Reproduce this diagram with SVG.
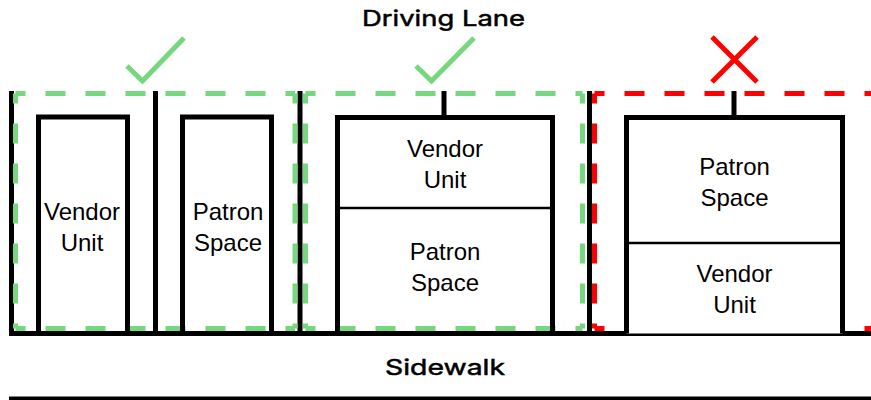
<svg xmlns="http://www.w3.org/2000/svg" width="871" height="400" viewBox="0 0 871 400">
<style>
.bg{fill:#ffffff}
.wall{fill:none;stroke:#000;stroke-width:5;stroke-linejoin:miter}
.unit{fill:#ffffff;stroke:#000;stroke-width:5;stroke-linejoin:miter}
.div{fill:none;stroke:#000;stroke-width:2.5}
.okz{fill:none;stroke:#77d77e;stroke-width:5;stroke-dasharray:20 20;stroke-dashoffset:10}
.badz{fill:none;stroke:#ff0000;stroke-width:5;stroke-dasharray:20 20;stroke-dashoffset:10}
.ok{fill:none;stroke:#77d77e;stroke-width:5}
.bad{fill:none;stroke:#ff0000;stroke-width:5}
.lbl{font-family:"Liberation Sans",Arial,sans-serif;font-size:24px;fill:#000;text-anchor:middle}
.hdr{font-family:Inter,"Liberation Sans",sans-serif;font-size:22px;font-weight:400;fill:#000;stroke:#000;stroke-width:0.5;text-anchor:middle}
</style>
<rect class="bg" x="0" y="0" width="871" height="400"/>

<g id="road">
<text class="hdr" x="443.5" y="26" textLength="163" lengthAdjust="spacingAndGlyphs">Driving Lane</text>
<text class="hdr" x="445" y="375" textLength="120" lengthAdjust="spacingAndGlyphs">Sidewalk</text>
<line class="wall" x1="9" y1="333.5" x2="871" y2="333.5"/>
<line class="wall" x1="9" y1="399" x2="871" y2="399"/>
<line class="wall" x1="11.5" y1="91" x2="11.5" y2="333.5"/>
<line class="wall" x1="300" y1="91" x2="300" y2="333.5"/>
<line class="wall" x1="589.5" y1="91" x2="589.5" y2="333.5"/>
</g>

<g id="zone1">
<g class="okz">
<line x1="15.5" y1="93.5" x2="295" y2="93.5"/>
<line x1="15.5" y1="328.5" x2="295" y2="328.5"/>
<line x1="15.5" y1="93.5" x2="15.5" y2="328.5"/>
<line x1="295" y1="93.5" x2="295" y2="328.5"/>
</g>
<polyline class="wall" points="38.5,333.5 38.5,117 127.5,117 127.5,333.5"/>
<polyline class="wall" points="182.5,333.5 182.5,117 271.5,117 271.5,333.5"/>
<line class="wall" x1="155.5" y1="91" x2="155.5" y2="333.5"/>
<text class="lbl" x="82" y="220">Vendor</text>
<text class="lbl" x="82" y="251">Unit</text>
<text class="lbl" x="228" y="220">Patron</text>
<text class="lbl" x="228" y="251">Space</text>
<polyline class="ok" points="127,66 142.5,81 184,38"/>
</g>

<g id="zone2">
<g class="okz">
<line x1="305.5" y1="93.5" x2="582.5" y2="93.5"/>
<line x1="305.5" y1="328.5" x2="582.5" y2="328.5"/>
<line x1="305.5" y1="93.5" x2="305.5" y2="328.5"/>
<line x1="582.5" y1="93.5" x2="582.5" y2="328.5"/>
</g>
<polyline class="wall" points="337.5,333.5 337.5,117.5 552.5,117.5 552.5,333.5"/>
<line class="div" x1="337.5" y1="208" x2="552.5" y2="208"/>
<text class="lbl" x="445" y="157">Vendor</text>
<text class="lbl" x="445" y="188">Unit</text>
<text class="lbl" x="445" y="260">Patron</text>
<text class="lbl" x="445" y="291">Space</text>
<polyline class="ok" points="416,66 431.5,81 474,38"/>
</g>

<g id="zone3">
<g class="badz">
<line x1="594.5" y1="93.5" x2="880" y2="93.5"/>
<line x1="594.5" y1="328.5" x2="880" y2="328.5"/>
<line x1="594.5" y1="93.5" x2="594.5" y2="328.5"/>
</g>
<path class="unit" d="M626.5,333.5 L626.5,117.5 L842.5,117.5 L842.5,333.5"/>
<line class="div" x1="626.5" y1="243" x2="842.5" y2="243"/>
<text class="lbl" x="734.5" y="175">Patron</text>
<text class="lbl" x="734.5" y="206">Space</text>
<text class="lbl" x="734.5" y="282">Vendor</text>
<text class="lbl" x="734.5" y="313">Unit</text>
<path class="bad" d="M712,37 L757,82 M757,37 L712,82"/>
</g>

<g id="connectors">
<line class="wall" x1="444" y1="91" x2="444" y2="117.5"/>
<line class="wall" x1="734" y1="91" x2="734" y2="117.5"/>
</g>
</svg>
